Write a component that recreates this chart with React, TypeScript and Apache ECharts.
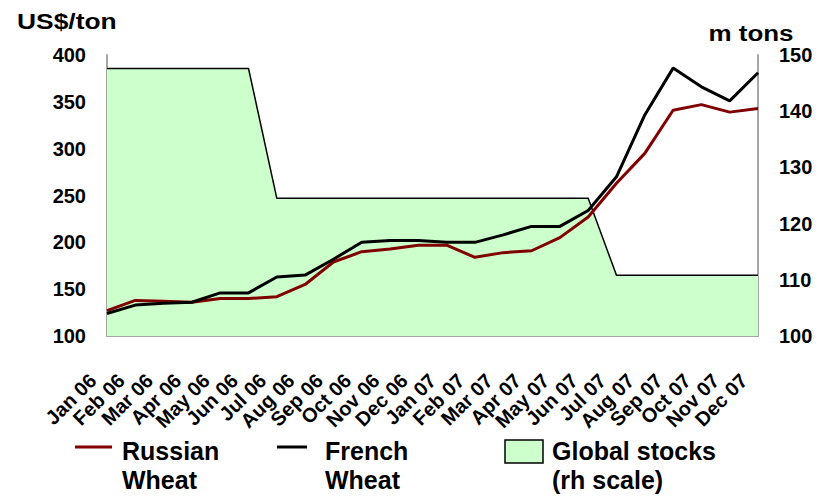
import React, { useEffect, useRef } from "react";
import * as echarts from "echarts";

const months = [
  "Jan 06", "Feb 06", "Mar 06", "Apr 06", "May 06", "Jun 06",
  "Jul 06", "Aug 06", "Sep 06", "Oct 06", "Nov 06", "Dec 06",
  "Jan 07", "Feb 07", "Mar 07", "Apr 07", "May 07", "Jun 07",
  "Jul 07", "Aug 07", "Sep 07", "Oct 07", "Nov 07", "Dec 07",
];

// US$ per ton
const russianWheat = [
  127, 138, 137, 136, 140, 140, 142, 155, 179, 190, 193, 197,
  197, 184, 189, 191, 205, 227, 263, 295, 341, 347, 339, 343,
];
const frenchWheat = [
  124, 133, 135, 136, 146, 146, 163, 165, 182, 200, 202, 202,
  200, 200, 208, 217, 217, 234, 270, 336, 386, 366, 351, 381,
];

// million tons, right-hand scale
const globalStocks = [
  147.6, 147.6, 147.6, 147.6, 147.6, 147.6,
  124.5, 124.5, 124.5, 124.5, 124.5, 124.5,
  124.5, 124.5, 124.5, 124.5, 124.5, 124.5,
  110.8, 110.8, 110.8, 110.8, 110.8, 110.8,
];

const leftTicks = { min: 100, max: 400, interval: 50 };
const rightTicks = { min: 100, max: 150, interval: 10 };

const FONT = "'Liberation Sans', Arial, sans-serif";
const RED = "#800000";
const GREEN = "#ccffcc";
const AXIS_GREY = "#a6a6a6";

export default function App() {
  const ref = useRef<HTMLDivElement>(null);

  useEffect(() => {
    if (!ref.current) return;
    const chart = echarts.init(ref.current, null, { renderer: "svg" });

    const legendText = (x: number, y: number, text: string) => ({
      type: "text",
      x,
      y,
      style: {
        text,
        font: `bold 25px ${FONT}`,
        fill: "#000",
        textVerticalAlign: "middle",
      },
    });

    chart.setOption({
      animation: false,
      backgroundColor: "#fff",
      grid: { left: 107, right: 62, top: 55, bottom: 162, containLabel: false },
      xAxis: {
        type: "category",
        data: months,
        boundaryGap: false,
        axisLine: { show: true, lineStyle: { color: AXIS_GREY, width: 2 } },
        axisTick: { show: false },
        axisLabel: {
          rotate: 45,
          interval: 0,
          margin: 27,
          padding: [0, 20, 0, 0],
          color: "#000",
          fontWeight: "bold",
          fontSize: 20,
          fontFamily: FONT,
        },
        splitLine: { show: false },
      },
      yAxis: [
        {
          type: "value",
          position: "left",
          ...leftTicks,
          axisLine: { show: true, lineStyle: { color: AXIS_GREY, width: 2 } },
          axisTick: { show: false },
          splitLine: { show: false },
          axisLabel: {
            margin: 21,
            color: "#000",
            fontWeight: "bold",
            fontSize: 20,
            fontFamily: FONT,
          },
        },
        {
          type: "value",
          position: "right",
          ...rightTicks,
          axisLine: { show: true, lineStyle: { color: AXIS_GREY, width: 2 } },
          axisTick: { show: false },
          splitLine: { show: false },
          axisLabel: {
            margin: 21,
            color: "#000",
            fontWeight: "bold",
            fontSize: 20,
            fontFamily: FONT,
          },
        },
      ],
      series: [
        {
          name: "Global stocks (rh scale)",
          type: "line",
          yAxisIndex: 1,
          data: globalStocks,
          symbol: "none",
          lineStyle: { color: "#000", width: 1.5 },
          areaStyle: { color: GREEN, opacity: 1, origin: "start" },
          z: 1,
        },
        {
          name: "Russian Wheat",
          type: "line",
          yAxisIndex: 0,
          data: russianWheat,
          symbol: "none",
          lineStyle: { color: RED, width: 3 },
          z: 3,
        },
        {
          name: "French Wheat",
          type: "line",
          yAxisIndex: 0,
          data: frenchWheat,
          symbol: "none",
          lineStyle: { color: "#000", width: 3 },
          z: 4,
        },
      ],
      graphic: [
        {
          type: "text",
          x: 17,
          y: 21,
          scaleX: 1.2,
          style: {
            text: "US$/ton",
            font: `bold 22px ${FONT}`,
            fill: "#000",
            textVerticalAlign: "middle",
          },
        },
        {
          type: "text",
          x: 751,
          y: 33,
          scaleX: 1.18,
          style: {
            text: "m tons",
            font: `bold 22px ${FONT}`,
            fill: "#000",
            textAlign: "center",
            textVerticalAlign: "middle",
          },
        },
        // legend
        {
          type: "line",
          shape: { x1: 75, y1: 447, x2: 112, y2: 447 },
          style: { stroke: RED, lineWidth: 3 },
        },
        legendText(122, 451, "Russian"),
        legendText(122, 480, "Wheat"),
        {
          type: "line",
          shape: { x1: 277, y1: 447, x2: 307, y2: 447 },
          style: { stroke: "#000", lineWidth: 3 },
        },
        legendText(325, 451, "French"),
        legendText(325, 480, "Wheat"),
        {
          type: "rect",
          shape: { x: 505, y: 440, width: 38, height: 23 },
          style: { fill: GREEN, stroke: "#000", lineWidth: 1.5 },
        },
        legendText(552, 451, "Global stocks"),
        legendText(552, 480, "(rh scale)"),
      ],
    });

    return () => chart.dispose();
  }, []);

  return (
    <div
      ref={ref}
      style={{ position: "fixed", left: 0, top: 0, width: 820, height: 498 }}
    />
  );
}
